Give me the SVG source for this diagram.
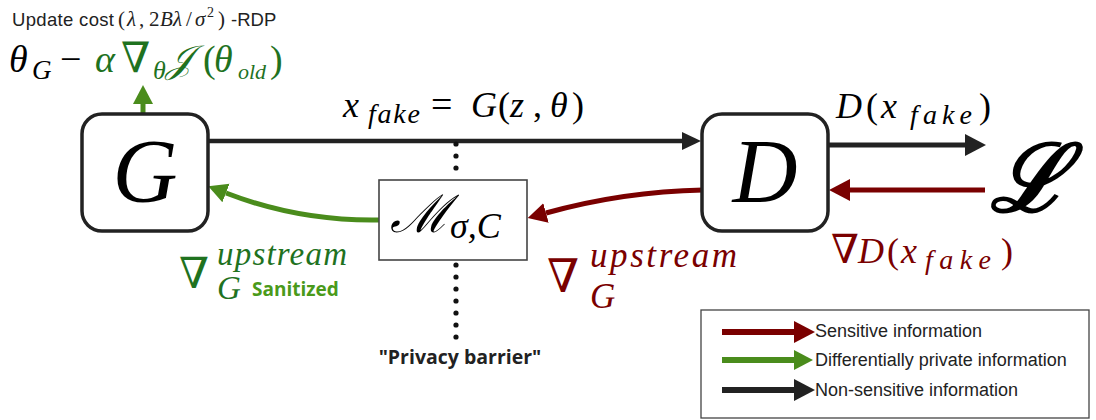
<svg xmlns="http://www.w3.org/2000/svg" width="1096" height="420" viewBox="0 0 1096 420">
<style>
.box{fill:#fff;stroke:#222;stroke-width:3.5}
.m{font-family:"Liberation Serif","DejaVu Serif",serif}
.i{font-style:italic}
.sans{font-family:"Liberation Sans",Arial,sans-serif}
.bold{font-family:"Open Sans","Noto Sans",sans-serif;font-weight:700}
.red{fill:#7a0000}
.dg{fill:#1f721f}
.k{stroke:#222;fill:none}
.r{stroke:#7a0000;fill:none}
.g{stroke:#4a8c1c;fill:none}
</style>
<defs>
<marker id="hK" markerUnits="userSpaceOnUse" markerWidth="20" markerHeight="22" refX="0" refY="11" orient="auto"><path d="M0,2 L19,11 L0,20 Z" fill="#222"/></marker>
<marker id="hK2" markerUnits="userSpaceOnUse" markerWidth="22" markerHeight="24" refX="0" refY="12" orient="auto"><path d="M0,1 L21,12 L0,23 Z" fill="#222"/></marker>
<marker id="hR" markerUnits="userSpaceOnUse" markerWidth="22" markerHeight="24" refX="0" refY="12" orient="auto"><path d="M0,1 L21,12 L0,23 Z" fill="#7a0000"/></marker>
<marker id="hG" markerUnits="userSpaceOnUse" markerWidth="22" markerHeight="24" refX="0" refY="12" orient="auto"><path d="M0,2 L19,12 L0,22 Z" fill="#4a8c1c"/></marker>
<marker id="hRs" markerUnits="userSpaceOnUse" markerWidth="22" markerHeight="24" refX="0" refY="12" orient="auto"><path d="M0,2 L19,12 L0,22 Z" fill="#7a0000"/></marker>
</defs>

<!-- top-left annotation -->
<g id="update-cost" fill="#222">
<text x="12" y="26" font-size="18.5" class="sans" textLength="102" lengthAdjust="spacing">Update cost</text>
<text y="26" font-size="21" class="m"><tspan x="118">(</tspan><tspan class="i" x="127">λ</tspan><tspan x="139">,</tspan><tspan x="149">2</tspan><tspan class="i" x="160">B</tspan><tspan class="i" x="173">λ</tspan><tspan x="186">/</tspan><tspan class="i" x="195">σ</tspan><tspan font-size="14" x="207" dy="-9">2</tspan><tspan x="218" dy="9">)</tspan></text>
<text x="231" y="26" font-size="18.5" class="sans">-RDP</text>
</g>
<g id="update-formula">
<text y="72" font-size="38" class="m"><tspan class="i" x="9">θ</tspan><tspan class="i" font-size="27" x="32" dy="7">G</tspan><tspan x="60" dy="-7">−</tspan></text>
<text y="72" font-size="38" class="m dg"><tspan class="i" x="95">α</tspan><tspan x="121" font-size="42">∇</tspan><tspan class="i" font-size="26" x="153" dy="7">θ</tspan><tspan class="i" x="166" dy="-7">𝒥</tspan><tspan x="203">(</tspan><tspan class="i" x="214">θ</tspan><tspan class="i" font-size="22" x="238" dy="7">old</tspan><tspan x="270" dy="-7">)</tspan></text>
</g>

<!-- connectors -->
<g id="connectors">
<line x1="209" y1="141" x2="682" y2="141" class="k" stroke-width="4.5" marker-end="url(#hK)"/>
<line x1="828" y1="145" x2="965" y2="145" class="k" stroke-width="5" marker-end="url(#hK2)"/>
<line x1="985" y1="190" x2="850" y2="190" class="r" stroke-width="5" marker-end="url(#hR)"/>
<path d="M703,190 C650,191 600,198 546,213" class="r" stroke-width="5" marker-end="url(#hRs)"/>
<path d="M379,220 C320,221 270,210 226,193" class="g" stroke-width="5" marker-end="url(#hG)"/>
<line x1="143" y1="113" x2="143" y2="104" class="g" stroke-width="5" marker-end="url(#hG)"/>
</g>

<!-- privacy barrier dots -->
<g id="privacy-barrier" fill="#111">
<circle cx="456" cy="144" r="2.6"/><circle cx="456" cy="156" r="2.6"/><circle cx="456" cy="168" r="2.6"/>
<circle cx="456" cy="265" r="2.6"/><circle cx="456" cy="277" r="2.6"/><circle cx="456" cy="289" r="2.6"/><circle cx="456" cy="301" r="2.6"/><circle cx="456" cy="313" r="2.6"/><circle cx="456" cy="325" r="2.6"/><circle cx="456" cy="337" r="2.6"/>
<text x="460" y="364" font-size="19.5" class="bold" fill="#222" text-anchor="middle">"Privacy barrier"</text>
</g>

<!-- nodes -->
<g id="node-G">
<rect x="82" y="114" width="126" height="117" rx="20" class="box"/>
<text x="145" y="202" font-size="90" class="m i" text-anchor="middle">G</text>
</g>
<g id="node-D">
<rect x="702" y="114" width="126" height="117" rx="20" class="box"/>
<text x="765" y="202" font-size="90" class="m i" text-anchor="middle">D</text>
</g>
<g id="node-M">
<rect x="379" y="180" width="148" height="80" fill="#fff" stroke="#444" stroke-width="1.6"/>
<text x="390" y="232" font-size="52" class="m i">ℳ<tspan font-size="36" dy="6">σ,C</tspan></text>
</g>
<g id="node-L">
<text x="990" y="211" font-size="94" class="m i" font-weight="700">ℒ</text>
</g>

<!-- edge labels -->
<g id="labels">
<text y="117" font-size="36" class="m"><tspan class="i" x="343">x</tspan><tspan class="i" font-size="28" x="368" dy="6" textLength="52" lengthAdjust="spacing">fake</tspan><tspan x="431" dy="-6" font-size="38">=</tspan><tspan class="i" x="471">G</tspan><tspan x="498">(</tspan><tspan class="i" x="510">z</tspan><tspan x="533">,</tspan><tspan class="i" x="550">θ</tspan><tspan x="572">)</tspan></text>
<text y="118" font-size="36" class="m"><tspan class="i" x="836">D</tspan><tspan x="866">(</tspan><tspan class="i" x="881">x</tspan><tspan class="i" font-size="28" x="910" dy="6" textLength="62" lengthAdjust="spacing">fake</tspan><tspan x="979" dy="-6">)</tspan></text>
<text y="263" font-size="36" class="m red"><tspan x="831" font-size="40">∇</tspan><tspan class="i" x="858">D</tspan><tspan x="887">(</tspan><tspan class="i" x="901">x</tspan><tspan class="i" font-size="28" x="925" dy="6" textLength="66" lengthAdjust="spacing">fake</tspan><tspan x="1001" dy="-6">)</tspan></text>
<text x="547" y="292" font-size="46" class="m red">∇</text>
<text x="590" y="267" font-size="35" class="m i red" textLength="147" lengthAdjust="spacing">upstream</text>
<text x="590" y="308" font-size="35" class="m i red">G</text>
<text x="179" y="288" font-size="43" class="m dg">∇</text>
<text x="217" y="265" font-size="33" class="m i dg" textLength="130" lengthAdjust="spacing">upstream</text>
<text x="217" y="299" font-size="33" class="m i dg">G</text>
<text x="252" y="296" font-size="19" class="bold" fill="#4a9a1a">Sanitized</text>
</g>

<!-- legend -->
<g id="legend">
<rect x="701" y="310" width="388" height="108" fill="#fff" stroke="#444" stroke-width="1.3"/>
<line x1="722" y1="332" x2="794" y2="332" class="r" stroke-width="6" marker-end="url(#hR)"/>
<line x1="722" y1="360" x2="794" y2="360" class="g" stroke-width="6" marker-end="url(#hG)"/>
<line x1="722" y1="390" x2="794" y2="390" class="k" stroke-width="6" marker-end="url(#hK2)"/>
<text x="815" y="337" font-size="18" class="sans" fill="#222">Sensitive information</text>
<text x="815" y="366" font-size="18" class="sans" fill="#222">Differentially private information</text>
<text x="815" y="396" font-size="18" class="sans" fill="#222">Non-sensitive information</text>
</g>
</svg>
